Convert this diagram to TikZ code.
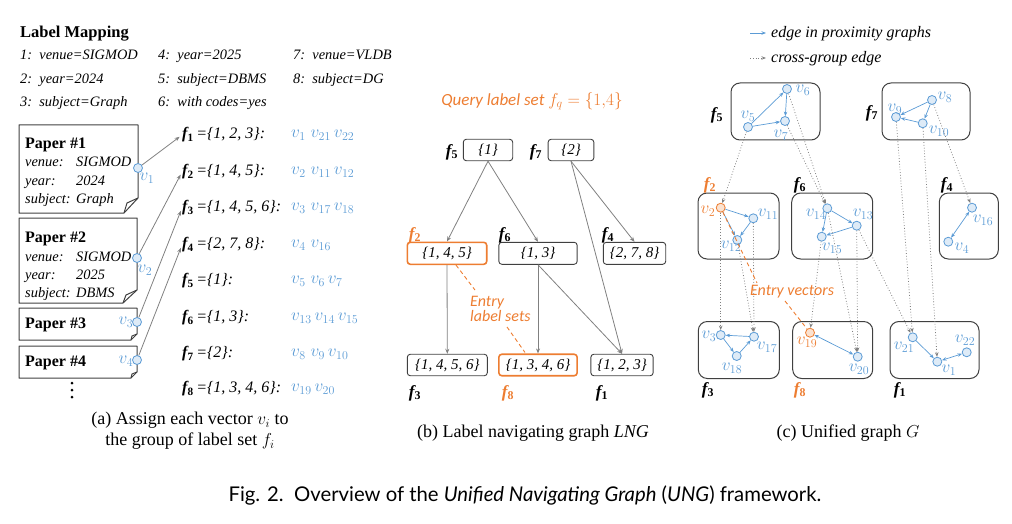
\documentclass[tikz,border=0pt]{standalone}
\usepackage{fontspec}
\setmainfont{Liberation Serif}
\newfontfamily\carl{Carlito}
\newfontfamily\capfont{Lato}
\usetikzlibrary{arrows.meta,calc}
\definecolor{vblue}{RGB}{91,155,213}
\definecolor{vfill}{RGB}{222,235,247}
\definecolor{qorange}{RGB}{237,125,49}
\definecolor{ofill}{RGB}{251,226,208}
\definecolor{egray}{RGB}{128,128,128}
\definecolor{bdark}{RGB}{64,64,64}
\newcommand{\fb}[1]{{\bfseries\itshape f}$_{\mathbf{#1}}$}
\begin{document}
\begin{tikzpicture}[x=1pt,y=-1pt,
  vtx/.style={circle,draw=vblue,fill=vfill,minimum size=9pt,inner sep=0pt,line width=0.8pt},
  ovtx/.style={vtx,draw=qorange,fill=ofill},
  vlab/.style={text=vblue,inner sep=0pt,font=\fontsize{17}{17}\selectfont},
  olab/.style={vlab,text=qorange},
  pedge/.style={-{Stealth[length=4.5pt,width=3.5pt]},draw=vblue,line width=0.7pt},
  bedge/.style={{Stealth[length=4.5pt,width=3.5pt]}-{Stealth[length=4.5pt,width=3.5pt]},draw=vblue,line width=0.7pt},
  xedge/.style={-{Stealth[length=4.5pt,width=3.5pt]},draw=egray,dotted,line width=0.8pt},
  garr/.style={-{Stealth[length=5pt,width=4pt]},draw=egray,line width=0.8pt},
  gbox/.style={draw=bdark,rounded corners=9pt,line width=1pt,inner sep=0pt},
  lng/.style={draw=bdark,rounded corners=3pt,line width=0.9pt,minimum height=21.5pt,inner sep=0pt,font=\itshape\fontsize{15}{15}\selectfont},
  lngo/.style={lng,draw=qorange,line width=1.6pt},
  flab/.style={inner sep=0pt,font=\fontsize{17}{17}\selectfont},
  oflab/.style={flab,text=qorange},
  row/.style={anchor=west,inner sep=0pt,font=\itshape\fontsize{16}{16}\selectfont},
  vlist/.style={anchor=west,inner sep=0pt,text=vblue,font=\fontsize{17}{17}\selectfont},
  map/.style={anchor=base west,inner sep=0pt,font=\itshape\fontsize{14.4}{14.4}\selectfont},
  ptxt/.style={anchor=base west,inner sep=0pt,font=\itshape\fontsize{14.4}{14.4}\selectfont},
  ptitle/.style={anchor=base west,inner sep=0pt,font=\bfseries\fontsize{16}{16}\selectfont},
  paper/.style={draw=bdark,line width=1pt,line join=round},
  entry/.style={draw=qorange,dash pattern=on 4pt off 3pt,line width=0.9pt},
  otext/.style={inner sep=0pt,text=qorange,font=\carl\itshape\fontsize{16}{16}\selectfont},
  subcap/.style={inner sep=0pt,font=\fontsize{18}{21}\selectfont,align=center},
  legt/.style={anchor=west,inner sep=0pt,font=\itshape\fontsize{16}{16}\selectfont},
  dotmark/.style={circle,fill=black,inner sep=0pt,minimum size=3pt}
]
\useasboundingbox (0,0) rectangle (1012,524);

% ---------------- (a) -----------------
\node[anchor=base west,inner sep=0pt,font=\bfseries\fontsize{16.5}{16.5}\selectfont] (lmt) at (20,37.5) {Label Mapping};
\node[map] (m1) at (20,60) {1:\ \ venue=SIGMOD};
\node[map] (m2) at (20,84) {2:\ \ year=2024};
\node[map] (m3) at (20,107) {3:\ \ subject=Graph};
\node[map] (m4) at (158,60) {4:\ \ year=2025};
\node[map] (m5) at (158,84) {5:\ \ subject=DBMS};
\node[map] (m6) at (158,107) {6:\ \ with codes=yes};
\node[map] (m7) at (293,60) {7:\ \ venue=VLDB};
\node[map] (m8) at (293,84) {8:\ \ subject=DG};

% papers
\draw[paper] (19,125) -- (138,125) -- (138,198) -- (124,213) -- (19,213) -- cycle;
\draw[paper] (138,198) -- (127,203) -- (124,213);
\draw[paper] (19,218) -- (137,218) -- (137,290) -- (123,303) -- (19,303) -- cycle;
\draw[paper] (137,290) -- (126,295) -- (123,303);
\draw[paper] (19,308) -- (137,308) -- (137,334) -- (131,340) -- (19,340) -- cycle;
\draw[paper] (137,334) -- (132,336) -- (131,340);
\draw[paper] (19,346) -- (137,346) -- (137,372) -- (131,378) -- (19,378) -- cycle;
\draw[paper] (137,372) -- (132,374) -- (131,378);

\node[ptitle] (p1t) at (25,148.5) {Paper \#1};
\node[ptxt] (p1a) at (25,167) {venue:};
\node[ptxt] (p1b) at (76,167) {SIGMOD};
\node[ptxt] (p1c) at (25,185) {year:};
\node[ptxt] (p1d) at (76,185) {2024};
\node[ptxt] (p1e) at (25,203) {subject:};
\node[ptxt] (p1f) at (76,203) {Graph};
\node[ptitle] (p2t) at (25,242.5) {Paper \#2};
\node[ptxt] (p2a) at (25,261) {venue:};
\node[ptxt] (p2b) at (76,261) {SIGMOD};
\node[ptxt] (p2c) at (25,279) {year:};
\node[ptxt] (p2d) at (76,279) {2025};
\node[ptxt] (p2e) at (25,297) {subject:};
\node[ptxt] (p2f) at (76,297) {DBMS};
\node[ptitle] (p3t) at (25,328.5) {Paper \#3};
\node[ptitle] (p4t) at (25,366.5) {Paper \#4};
\node[dotmark] (d1) at (72,383) {};
\node[dotmark] (d2) at (72,390) {};
\node[dotmark] (d3) at (72,397) {};

\node[vtx] (a1) at (138,168) {};
\node[vtx] (a2) at (137,258) {};
\node[vtx] (a3) at (137,322) {};
\node[vtx] (a4) at (137,360) {};
\node[vlab] (la1) at (147,178) {$v_1$};
\node[vlab] (la2) at (145,270) {$v_2$};
\node[vlab] (la3) at (126,322) {$v_3$};
\node[vlab] (la4) at (126,361) {$v_4$};

\node[row] (r1) at (182,135) {\fb{1}\,=\{1, 2, 3\}:};
\node[row] (r2) at (182,172) {\fb{2}\,=\{1, 4, 5\}:};
\node[row] (r3) at (182,208) {\fb{3}\,=\{1, 4, 5, 6\}:};
\node[row] (r4) at (182,245) {\fb{4}\,=\{2, 7, 8\}:};
\node[row] (r5) at (182,281) {\fb{5}\,=\{1\}:};
\node[row] (r6) at (182,318) {\fb{6}\,=\{1, 3\}:};
\node[row] (r7) at (182,354) {\fb{7}\,=\{2\}:};
\node[row] (r8) at (182,389) {\fb{8}\,=\{1, 3, 4, 6\}:};
\node[vlist] (l1) at (291,135) {$v_1\;v_{21}\,v_{22}$};
\node[vlist] (l2) at (291,172) {$v_2\;v_{11}\,v_{12}$};
\node[vlist] (l3) at (291,208) {$v_3\;v_{17}\,v_{18}$};
\node[vlist] (l4) at (291,245) {$v_4\;v_{16}$};
\node[vlist] (l5) at (291,281) {$v_5\;v_6\,v_7$};
\node[vlist] (l6) at (291,318) {$v_{13}\,v_{14}\,v_{15}$};
\node[vlist] (l7) at (291,354) {$v_8\;v_9\,v_{10}$};
\node[vlist] (l8) at (291,389) {$v_{19}\,v_{20}$};

\draw[garr,shorten >=3pt] (a1) -- (r1.west);
\draw[garr,shorten >=3pt] (a2) -- (r2.west);
\draw[garr,shorten >=3pt] (a3) -- (r3.west);
\draw[garr,shorten >=3pt] (a4) -- (r4.west);

\node[subcap] (capa) at (190,431) {(a) Assign each vector $v_i$ to\\the group of label set $f_i$};

% ---------------- (b) -----------------
\node[otext,font=\carl\itshape\fontsize{17}{17}\selectfont] (qry) at (532,101) {Query label set $f_q=\{1{,}4\}$};
\node[lng,minimum width=49.4pt] (b5) at (488,150) {\{1\}};
\node[lng,minimum width=45.7pt] (b7) at (571,150) {\{2\}};
\node[lngo,minimum width=79.4pt,minimum height=22pt] (b2) at (447,253.3) {\{1, 4, 5\}};
\node[lng,minimum width=78.3pt,minimum height=22pt] (b6) at (538,253.3) {\{1, 3\}};
\node[lng,minimum width=62.4pt,minimum height=22pt] (b4) at (634.5,253.3) {\{2, 7, 8\}};
\node[lng,minimum width=80pt] (b3) at (447.3,365) {\{1, 4, 5, 6\}};
\node[lngo,minimum width=78.3pt] (b8) at (538,365) {\{1, 3, 4, 6\}};
\node[lng,minimum width=62.3pt] (b1) at (622,365) {\{1, 2, 3\}};

\node[flab] (bl5) at (452,152) {\fb{5}};
\node[flab] (bl7) at (536,152) {\fb{7}};
\node[oflab] (bl2) at (415,235) {\fb{2}};
\node[flab] (bl6) at (505,235) {\fb{6}};
\node[flab] (bl4) at (608,235) {\fb{4}};
\node[flab] (bl3) at (415,393) {\fb{3}};
\node[oflab] (bl8) at (508,393) {\fb{8}};
\node[flab] (bl1) at (602,393) {\fb{1}};

\draw[garr] (b5.south) -- (b2.north);
\draw[garr] (b5.south) -- (b6.north);
\draw[garr] (b7.south) -- (b4.north);
\draw[garr] (b7.south) -- (b1.north);
\draw[garr] (b2.south) -- (b3.north);
\draw[garr] (b6.south) -- (b8.north);
\draw[garr] (b6.south) -- (b1.north);

\node[otext,anchor=west,align=left,font=\carl\itshape\fontsize{16}{15}\selectfont] (elt) at (470,309) {Entry\\label sets};
\coordinate (el1) at (475,290);
\coordinate (el2) at (507,327);
\draw[entry] ([xshift=9pt]b2.south) -- (el1);
\draw[entry] (el2) -- ([xshift=-13pt,yshift=1pt]b8.north);

\node[subcap] (capb) at (533,433) {(b) Label navigating graph \textit{LNG}};

% ---------------- (c) -----------------
\coordinate (lg1a) at (750,33);
\coordinate (lg1b) at (766,33);
\coordinate (lg2a) at (750,58);
\coordinate (lg2b) at (766,58);
\draw[pedge] (lg1a) -- (lg1b);
\draw[xedge] (lg2a) -- (lg2b);
\node[legt] (lgt1) at (771,34) {edge in proximity graphs};
\node[legt] (lgt2) at (771,59) {cross-group edge};

\node[gbox,minimum width=89pt,minimum height=57pt] (g5) at (775.5,111.5) {};
\node[gbox,minimum width=88pt,minimum height=57pt] (g7) at (926,111.5) {};
\node[gbox,minimum width=81pt,minimum height=66pt] (g2) at (738.5,226) {};
\node[gbox,minimum width=81pt,minimum height=66pt] (g6) at (832.2,226) {};
\node[gbox,minimum width=59pt,minimum height=66pt] (g4) at (968.8,226) {};
\node[gbox,minimum width=81pt,minimum height=57pt] (g3) at (738.8,350) {};
\node[gbox,minimum width=80pt,minimum height=57pt] (g8) at (832.7,350) {};
\node[gbox,minimum width=89pt,minimum height=57pt] (g1) at (934.5,350) {};

\node[flab] (gl5) at (717,115) {\fb{5}};
\node[flab] (gl7) at (872,113) {\fb{7}};
\node[oflab] (gl2) at (710,185) {\fb{2}};
\node[flab] (gl6) at (800,185) {\fb{6}};
\node[flab] (gl4) at (947,185) {\fb{4}};
\node[flab] (gl3) at (708,390) {\fb{3}};
\node[oflab] (gl8) at (800,390) {\fb{8}};
\node[flab] (gl1) at (900,390) {\fb{1}};

\node[vtx] (v5) at (748,127) {};
\node[vtx] (v6) at (787,89) {};
\node[vtx] (v7) at (785,121) {};
\node[vtx] (v8) at (932,100) {};
\node[vtx] (v9) at (896,117) {};
\node[vtx] (v10) at (922.7,123.3) {};
\node[ovtx] (v2) at (720.7,207.7) {};
\node[vtx] (v11) at (753.3,218.3) {};
\node[vtx] (v12) at (737.3,240) {};
\node[vtx] (v14) at (827.3,208.3) {};
\node[vtx] (v13) at (856.7,225.7) {};
\node[vtx] (v15) at (821.7,236.7) {};
\node[vtx] (v16) at (972,207.7) {};
\node[vtx] (v4) at (948.3,241.7) {};
\node[vtx] (v3) at (720.7,335) {};
\node[vtx] (v17) at (754,336.7) {};
\node[vtx] (v18) at (736.7,356) {};
\node[ovtx] (v19) at (810,332.7) {};
\node[vtx] (v20) at (857.7,356.7) {};
\node[vtx] (v21) at (912.7,337.3) {};
\node[vtx] (v1) at (937.3,361.7) {};
\node[vtx] (v22) at (966.7,352.3) {};

\node[vlab] (lv5) at (748,116) {$v_5$};
\node[vlab] (lv6) at (803,90) {$v_6$};
\node[vlab] (lv7) at (781,135) {$v_7$};
\node[vlab] (lv8) at (945,97) {$v_8$};
\node[vlab] (lv9) at (895,109) {$v_9$};
\node[vlab] (lv10) at (939,131) {$v_{10}$};
\node[olab] (lv2) at (708,211) {$v_2$};
\node[vlab] (lv11) at (768,214) {$v_{11}$};
\node[vlab] (lv12) at (731,246) {$v_{12}$};
\node[vlab] (lv14) at (816,214) {$v_{14}$};
\node[vlab] (lv13) at (863,214) {$v_{13}$};
\node[vlab] (lv15) at (832,248) {$v_{15}$};
\node[vlab] (lv16) at (983,220) {$v_{16}$};
\node[vlab] (lv4) at (962,248) {$v_4$};
\node[vlab] (lv3) at (709,336) {$v_3$};
\node[vlab] (lv17) at (767,347) {$v_{17}$};
\node[vlab] (lv18) at (732,368) {$v_{18}$};
\node[olab] (lv19) at (807,342) {$v_{19}$};
\node[vlab] (lv20) at (859,369) {$v_{20}$};
\node[vlab] (lv21) at (904,347) {$v_{21}$};
\node[vlab] (lv1) at (949,370) {$v_1$};
\node[vlab] (lv22) at (965,340) {$v_{22}$};

% proximity edges
\draw[pedge] (v5) -- (v6);
\draw[pedge] (v5) -- (v7);
\draw[pedge] (v6) -- (v7);
\draw[pedge] (v8) -- (v9);
\draw[pedge] (v8) -- (v10);
\draw[pedge] (v10) -- (v9);
\draw[pedge] (v2) -- (v11);
\draw[pedge] (v2) -- (v12);
\draw[pedge] (v11) -- (v12);
\draw[pedge] (v14) -- (v13);
\draw[pedge] (v14) -- (v15);
\draw[pedge] (v13) -- (v15);
\draw[bedge] (v16) -- (v4);
\draw[pedge] (v17) -- (v3);
\draw[pedge] (v3) -- (v18);
\draw[pedge] (v18) -- (v17);
\draw[bedge] (v19) -- (v20);
\draw[pedge] (v21) -- (v1);
\draw[bedge] (v1) -- (v22);

% cross-group edges
\draw[xedge] (v5) -- (v2);
\draw[xedge] (v6) -- (v14);
\draw[xedge] (v7) -- (v14);
\draw[xedge] (v2) -- (v3);
\draw[xedge] (v11) -- (v17);
\draw[xedge] (v12) -- (v17);
\draw[xedge] (v15) -- (v19);
\draw[xedge] (v14) -- (v20);
\draw[xedge] (v13) -- (v20);
\draw[xedge] (v13) -- (v21);
\draw[xedge] (v9) -- (v21);
\draw[xedge] (v10) -- (v1);
\draw[xedge] (v8) -- (v16);

% entry vectors
\coordinate (ev1) at (757,283);
\coordinate (ev2) at (785,301);
\draw[entry] (v2) -- (ev1);
\draw[entry] (ev2) -- (v19);
\node[otext] (evt) at (792,292) {Entry vectors};

\node[subcap] (capc) at (848,433) {(c) Unified graph $G$};

% figure caption
\node[inner sep=0pt,font=\capfont\fontsize{20.3}{20.3}\selectfont] (fig) at (525,495) {Fig. 2.\ \ Overview of the \textit{Unified Navigating Graph} (\textit{UNG}) framework.};
\end{tikzpicture}
\end{document}
